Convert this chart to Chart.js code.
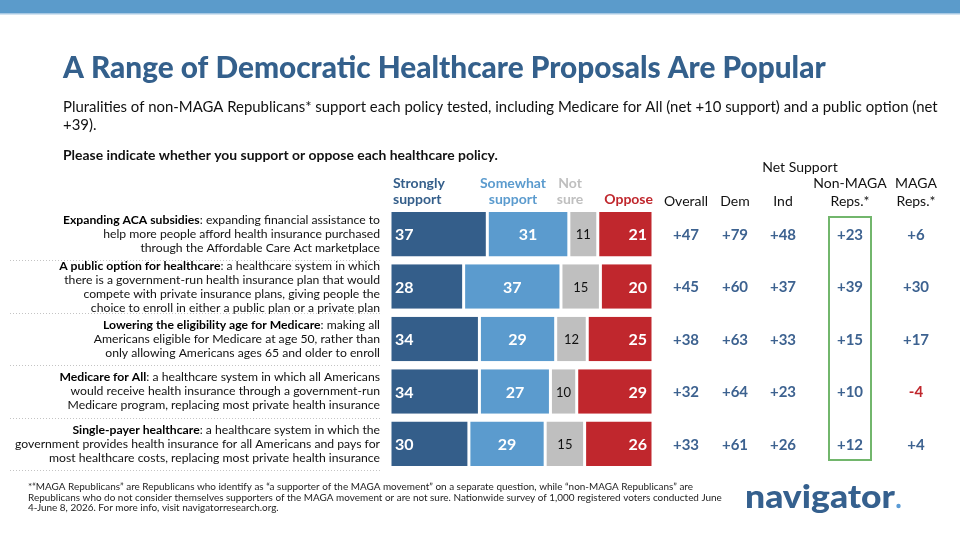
<!DOCTYPE html>
<html><head><meta charset="utf-8">
<script src="https://cdn.jsdelivr.net/npm/chart.js@4.4.1/dist/chart.umd.min.js"></script>
<style>html,body{margin:0;padding:0;background:#fff;}canvas{display:block;}</style>
</head><body>
<canvas id="c" width="960" height="540"></canvas>
<script>
// ---- data ----
const categories = ['Expanding ACA subsidies','A public option for healthcare','Lowering the eligibility age for Medicare','Medicare for All','Single-payer healthcare'];
const descLines = [
  [': expanding financial assistance to','help more people afford health insurance purchased','through the Affordable Care Act marketplace'],
  [': a healthcare system in which','there is a government-run health insurance plan that would','compete with private insurance plans, giving people the','choice to enroll in either a public plan or a private plan'],
  [': making all','Americans eligible for Medicare at age 50, rather than','only allowing Americans ages 65 and older to enroll'],
  [': a healthcare system in which all Americans','would receive health insurance through a government-run','Medicare program, replacing most private health insurance'],
  [': a healthcare system in which the','government provides health insurance for all Americans and pays for','most healthcare costs, replacing most private health insurance']
];
const seriesNames = ['Strongly support','Somewhat support','Not sure','Oppose'];
const strongly = [37,28,34,34,30];
const somewhat = [31,37,29,27,29];
const notSure  = [11,15,12,10,15];
const oppose   = [21,20,25,29,26];
const netHeaders = ['Overall','Dem','Ind','Non-MAGA Reps.*','MAGA Reps.*'];
const netOverall = [47,45,38,32,33];
const netDem     = [79,60,63,64,61];
const netInd     = [48,37,33,23,26];
const netNonMaga = [23,39,15,10,12];
const netMaga    = [6,30,17,-4,4];

const title = 'A Range of Democratic Healthcare Proposals Are Popular';
const subtitle = ['Pluralities of non-MAGA Republicans* support each policy tested, including Medicare for All (net +10 support) and a public option (net','+39).'];
const question = 'Please indicate whether you support or oppose each healthcare policy.';
const footnote = ['*\u201CMAGA Republicans\u201D are Republicans who identify as \u201Ca supporter of the MAGA movement\u201D on a separate question, while \u201Cnon-MAGA Republicans\u201D are',
 'Republicans who do not consider themselves supporters of the MAGA movement or are not sure. Nationwide survey of 1,000 registered voters conducted June',
 '4-June 8, 2026. For more info, visit navigatorresearch.org.'];

// ---- styles ----
const FONT = 'Lato, "Open Sans", sans-serif';
const C_STRONG = '#345e8a', C_SOME = '#5b9bce', C_NS = '#bfbfbf', C_OPP = '#c0272d';
const C_TITLE = '#34608c', C_NET = '#3d6290';

function fitSize(ctx, text, weight, targetW){
  ctx.font = weight + ' 100px ' + FONT;
  return 100 * targetW / ctx.measureText(text).width;
}

const textPlugin = {
  id: 'texts',
  afterDraw(chart){
    const ctx = chart.ctx;
    const ys = chart.scales.y;
    ctx.save();
    // top bar
    ctx.fillStyle = '#5b9bcb'; ctx.fillRect(0,0,960,13);
    ctx.fillStyle = '#a8c9e4'; ctx.fillRect(0,13,960,1.5);
    ctx.textBaseline = 'middle';
    // title
    let s = fitSize(ctx, title, '900', 763);
    ctx.font = '900 ' + s + 'px ' + FONT; ctx.fillStyle = C_TITLE; ctx.textAlign='left';
    ctx.fillText(title, 63, 68);
    // subtitle
    s = fitSize(ctx, subtitle[0], '400', 875);
    ctx.font = '400 ' + s + 'px ' + FONT; ctx.fillStyle = '#111';
    ctx.fillText(subtitle[0], 63, 107);
    ctx.fillText(subtitle[1], 63, 125);
    // question
    s = fitSize(ctx, question, '700', 435);
    ctx.font = '700 ' + s + 'px ' + FONT;
    ctx.fillText(question, 63, 156);

    // row labels
    const ls = fitSize(ctx, descLines[4][1], '400', 365);
    const lh = 14;
    categories.forEach((cat,i)=>{
      const cy = ys.getPixelForValue(i);
      const lines = descLines[i];
      const y0 = cy - (lines.length-1)*lh/2;
      ctx.font = '400 ' + ls + 'px ' + FONT;
      const restW = ctx.measureText(lines[0]).width;
      ctx.textAlign='right'; ctx.fillStyle='#111';
      ctx.fillText(lines[0], 380, y0);
      ctx.font = '700 ' + ls + 'px ' + FONT;
      ctx.fillStyle='#000';
      ctx.fillText(cat, 380 - restW, y0);
      ctx.font = '400 ' + ls + 'px ' + FONT; ctx.fillStyle='#111';
      for(let k=1;k<lines.length;k++) ctx.fillText(lines[k], 380, y0 + k*lh);
    });
    // dotted separators
    ctx.strokeStyle = '#c4c4c4'; ctx.lineWidth = 1; ctx.setLineDash([1,2]);
    for(let i=0;i<categories.length;i++){
      const yb = Math.round(ys.getPixelForValue(i) + (ys.getPixelForValue(1)-ys.getPixelForValue(0))/2) + 0.5;
      ctx.beginPath(); ctx.moveTo(10, yb); ctx.lineTo(380, yb); ctx.stroke();
    }
    ctx.setLineDash([]);

    // series headers
    ctx.font = '700 14px ' + FONT;
    ctx.textAlign='left'; ctx.fillStyle=C_STRONG;
    ctx.fillText('Strongly', 393, 183); ctx.fillText('support', 393, 199);
    ctx.textAlign='center'; ctx.fillStyle=C_SOME;
    ctx.fillText('Somewhat', 513, 183); ctx.fillText('support', 513, 199);
    ctx.fillStyle=C_NS;
    ctx.fillText('Not', 570, 183); ctx.fillText('sure', 570, 199);
    ctx.textAlign='right'; ctx.fillStyle=C_OPP;
    ctx.fillText('Oppose', 653, 199);

    // bar value labels
    chart.data.datasets.forEach((ds,di)=>{
      const meta = chart.getDatasetMeta(di);
      meta.data.forEach((el,i)=>{
        const v = ds.data[i];
        const {x, y, base} = el.getProps(['x','y','base'], true);
        if(di===2){ ctx.font='400 13px '+FONT; ctx.fillStyle='#111'; ctx.textAlign='center'; ctx.fillText(String(v),(x+base)/2,y+1); return; }
        ctx.font='700 16px '+FONT; ctx.fillStyle='#fff';
        if(di===0){ ctx.textAlign='left'; ctx.fillText(String(v), base+5, y+1); }
        else if(di===1){ ctx.textAlign='center'; ctx.fillText(String(v),(x+base)/2,y+1); }
        else { ctx.textAlign='right'; ctx.fillText(String(v), x-6, y+1); }
      });
    });

    // net support headers
    const colX = [686, 735, 783, 850, 916];
    ctx.font = '400 14px ' + FONT; ctx.fillStyle='#111'; ctx.textAlign='center';
    ctx.fillText('Net Support', 800, 167);
    netHeaders.forEach((h,j)=>{
      const parts = h.split(' ');
      if(parts.length===2){ ctx.fillText(parts[0], colX[j], 183); ctx.fillText(parts[1], colX[j], 201); }
      else ctx.fillText(h, colX[j], 201);
    });
    const netCols = [netOverall, netDem, netInd, netNonMaga, netMaga];
    ctx.font = '700 15px ' + FONT;
    netCols.forEach((col,j)=>{
      col.forEach((v,i)=>{
        ctx.fillStyle = v<0 ? C_OPP : C_NET;
        ctx.fillText((v>0?'+':'')+v, colX[j], ys.getPixelForValue(i)+1);
      });
    });
    // highlight box
    ctx.strokeStyle='#72b66c'; ctx.lineWidth=2;
    ctx.strokeRect(829, 217, 42, 243);

    // footnote
    ctx.textAlign='left'; ctx.fillStyle='#222';
    ctx.font = '400 10px ' + FONT;
    const fw = ctx.measureText(footnote[0]).width;
    const sx = 665 / fw;
    [487,498,508].forEach((yy,k)=>{
      ctx.save(); ctx.translate(28, yy); ctx.scale(sx,1);
      ctx.fillText(footnote[k], 0, 0); ctx.restore();
    });
    // logo
    ctx.textBaseline = 'alphabetic';
    ctx.font = '900 32px ' + FONT; ctx.fillStyle = '#35608e';
    ctx.textAlign='left';
    const lw = ctx.measureText('navigator').width;
    ctx.save(); ctx.translate(745, 508); ctx.scale(150/lw, 1);
    ctx.fillText('navigator', 0, 0); ctx.restore();
    ctx.fillStyle='#5b9bd5';
    ctx.beginPath(); ctx.arc(898.5, 506, 2.2, 0, Math.PI*2); ctx.fill();
    ctx.restore();
  }
};

const mk = (label, data, color) => ({label, data, backgroundColor: color, borderColor:'#fff',
  borderWidth:{left:1.5,right:1.5,top:0,bottom:0}, borderSkipped:false, barPercentage:0.85, categoryPercentage:1});

new Chart(document.getElementById('c'), {
  type: 'bar',
  data: {
    labels: categories,
    datasets: [mk(seriesNames[0], strongly, C_STRONG), mk(seriesNames[1], somewhat, C_SOME),
               mk(seriesNames[2], notSure, C_NS), mk(seriesNames[3], oppose, C_OPP)]
  },
  options: {
    indexAxis: 'y', responsive: false, animation: false, devicePixelRatio: 1,
    layout: { padding: { left: 390, right: 307, top: 208, bottom: 70 } },
    plugins: { legend: {display:false}, tooltip: {enabled:false} },
    scales: {
      x: { stacked: true, min: 0, max: 100, display: false },
      y: { stacked: true, display: false }
    }
  },
  plugins: [textPlugin]
});
</script>
</body></html>
